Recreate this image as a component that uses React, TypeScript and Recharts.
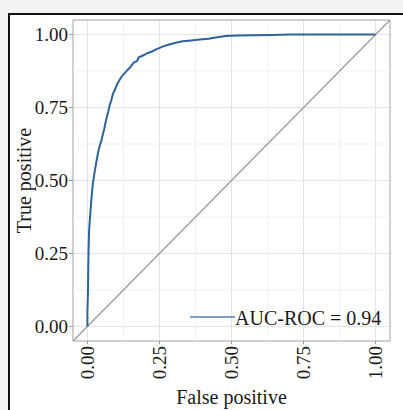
import {
  LineChart,
  Line,
  XAxis,
  YAxis,
  CartesianGrid,
  ReferenceLine,
  ReferenceArea,
} from 'recharts';

// ROC curve
const fpr = [
  0, 0, 0.002, 0.003, 0.004, 0.006, 0.008, 0.011, 0.015, 0.019, 0.022, 0.027,
  0.032, 0.038, 0.043, 0.048, 0.054, 0.058, 0.062, 0.068, 0.072, 0.078, 0.083,
  0.088, 0.095, 0.103, 0.112, 0.12, 0.13, 0.138, 0.147, 0.155, 0.163, 0.172,
  0.178, 0.185, 0.196, 0.21, 0.224, 0.24, 0.255, 0.27, 0.29, 0.31, 0.33, 0.36,
  0.39, 0.42, 0.45, 0.48, 0.52, 0.58, 0.64, 0.7, 1.0,
];
const tpr = [
  0, 0.05, 0.12, 0.2, 0.26, 0.33, 0.36, 0.4, 0.45, 0.49, 0.51, 0.54, 0.57, 0.6,
  0.62, 0.635, 0.66, 0.675, 0.695, 0.72, 0.735, 0.76, 0.775, 0.795, 0.81, 0.83,
  0.845, 0.858, 0.868, 0.878, 0.886, 0.897, 0.906, 0.909, 0.922, 0.925, 0.93,
  0.937, 0.942, 0.95, 0.956, 0.962, 0.968, 0.973, 0.977, 0.98, 0.983, 0.986,
  0.991, 0.995, 0.997, 0.998, 0.999, 1.0, 1.0,
];
const majorTicks = [0, 0.25, 0.5, 0.75, 1];
const minorTicks = [0.125, 0.375, 0.625, 0.875];
const legendLabel = 'AUC-ROC = 0.94';

const data = fpr.map((x, i) => ({ fpr: x, tpr: tpr[i] }));

const FONT = '"Liberation Serif", "Times New Roman", serif';
const domain: [number, number] = [-0.05, 1.05];

function RotatedTick(props: any) {
  const { x, y, payload } = props;
  return (
    <g transform={`translate(${x},${y})`}>
      <text
        transform="rotate(-90)"
        textAnchor="end"
        dominantBaseline="central"
        fill="#1a1a1a"
        fontSize={19}
        fontFamily={FONT}
      >
        {Number(payload.value).toFixed(2)}
      </text>
    </g>
  );
}

export default function App() {
  return (
    <div
      style={{
        position: 'fixed',
        left: 0,
        top: 0,
        width: 403,
        height: 410,
        overflow: 'hidden',
        background: '#f3f3f3',
      }}
    >
      <div
        style={{
          position: 'absolute',
          left: 8,
          top: 13,
          width: 430,
          height: 430,
          border: '2px solid #111',
          background: '#fff',
          boxSizing: 'border-box',
        }}
      />
      <div style={{ position: 'absolute', left: 0, top: 0 }}>
        <LineChart
          width={403}
          height={410}
          data={data}
          margin={{ top: 20, right: 13, left: 0, bottom: 0 }}
        >
          <CartesianGrid stroke="#e3e3e3" strokeWidth={1} />
          {minorTicks.map((t) => (
            <ReferenceLine key={'mx' + t} x={t} stroke="#eeeeee" strokeWidth={0.8} />
          ))}
          {minorTicks.map((t) => (
            <ReferenceLine key={'my' + t} y={t} stroke="#eeeeee" strokeWidth={0.8} />
          ))}
          <ReferenceArea
            x1={domain[0]}
            x2={domain[1]}
            y1={domain[0]}
            y2={domain[1]}
            fill="none"
            stroke="#b0b0b0"
            strokeWidth={1}
          />
          <XAxis
            dataKey="fpr"
            type="number"
            domain={domain}
            ticks={majorTicks}
            allowDataOverflow
            height={69}
            axisLine={false}
            tickLine={{ stroke: '#999' }}
            tickSize={3}
            tickMargin={2}
            tick={<RotatedTick />}
            label={{
              value: 'False positive',
              position: 'insideBottom',
              offset: 6,
              fill: '#1a1a1a',
              fontSize: 20,
              fontFamily: FONT,
            }}
          />
          <YAxis
            type="number"
            domain={domain}
            ticks={majorTicks}
            allowDataOverflow
            width={73}
            axisLine={false}
            tickLine={{ stroke: '#999' }}
            tickSize={4}
            tickMargin={1}
            tickFormatter={(v: number) => v.toFixed(2)}
            tick={{ fill: '#1a1a1a', fontSize: 19, fontFamily: FONT }}
            label={{
              value: 'True positive',
              angle: -90,
              position: 'insideLeft',
              offset: 24,
              fill: '#1a1a1a',
              fontSize: 20,
              fontFamily: FONT,
              style: { textAnchor: 'middle' },
            }}
          />
          <ReferenceLine
            segment={[
              { x: domain[0], y: domain[0] },
              { x: domain[1], y: domain[1] },
            ]}
            stroke="#999"
            strokeWidth={1.2}
          />
          <Line
            type="linear"
            dataKey="tpr"
            stroke="#2f6399"
            strokeWidth={2}
            dot={false}
            isAnimationActive={false}
          />
        </LineChart>
      </div>
      <div
        style={{
          position: 'absolute',
          left: 190,
          top: 306,
          display: 'flex',
          alignItems: 'center',
          fontFamily: FONT,
          fontSize: 20,
          lineHeight: '24px',
          color: '#1a1a1a',
          whiteSpace: 'nowrap',
        }}
      >
        <svg width={45} height={24} style={{ display: 'block' }}>
          <line x1={0} y1={11} x2={45} y2={11} stroke="#4f7fbf" strokeWidth={1.5} />
        </svg>
        <span>{legendLabel}</span>
      </div>
    </div>
  );
}
